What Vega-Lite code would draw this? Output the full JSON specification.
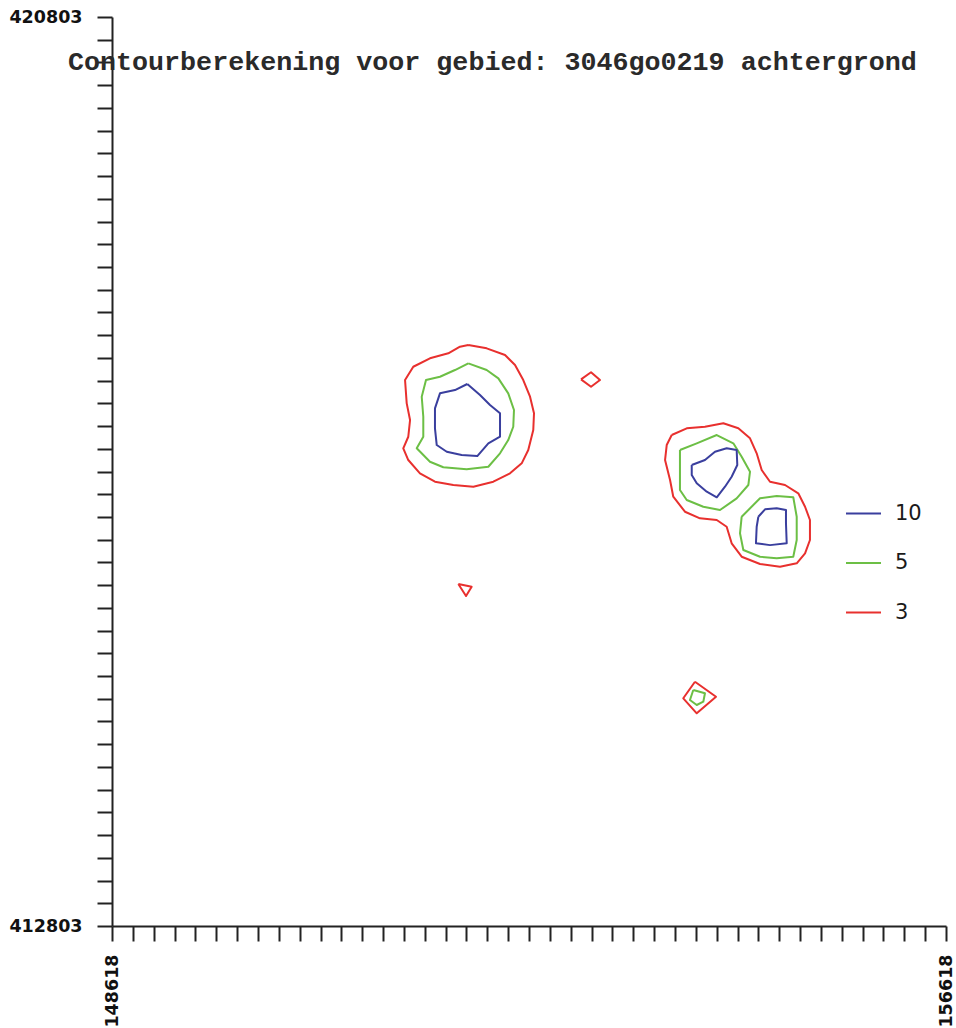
{
  "$schema": "https://vega.github.io/schema/vega-lite/v6.json",
  "width": 834,
  "height": 909,
  "autosize": {"type": "none"},
  "padding": {"left": 112, "top": 17, "right": 10, "bottom": 102},
  "background": "white",
  "title": {
    "text": "Contourberekening voor gebied: 3046go0219 achtergrond",
    "anchor": "start",
    "frame": "group",
    "dx": -44,
    "offset": -89,
    "baseline": "alphabetic",
    "font": "Liberation Mono",
    "fontSize": 26.7,
    "fontWeight": "bold",
    "color": "#2a2a2a"
  },
  "config": {
    "view": {"stroke": null},
    "axis": {
      "grid": false,
      "title": null,
      "domainColor": "#222222",
      "domainWidth": 2,
      "tickColor": "#222222",
      "tickWidth": 2,
      "tickSize": 15,
      "labelFont": "DejaVu Sans",
      "labelFontWeight": "bold",
      "labelFontSize": 17.5,
      "labelColor": "#111111",
      "labelOverlap": false,
      "labelFlush": false,
      "labelBound": false
    }
  },
  "data": {
    "values": [
      {"c":"r1","v":"3","o":1,"x":152036,"y":417916},
      {"c":"r1","v":"3","o":2,"x":152212,"y":417887},
      {"c":"r1","v":"3","o":3,"x":152388,"y":417828},
      {"c":"r1","v":"3","o":4,"x":152484,"y":417740},
      {"c":"r1","v":"3","o":5,"x":152563,"y":417608},
      {"c":"r1","v":"3","o":6,"x":152628,"y":417461},
      {"c":"r1","v":"3","o":7,"x":152666,"y":417315},
      {"c":"r1","v":"3","o":8,"x":152659,"y":417168},
      {"c":"r1","v":"3","o":9,"x":152611,"y":416992},
      {"c":"r1","v":"3","o":10,"x":152548,"y":416875},
      {"c":"r1","v":"3","o":11,"x":152436,"y":416787},
      {"c":"r1","v":"3","o":12,"x":152276,"y":416713},
      {"c":"r1","v":"3","o":13,"x":152084,"y":416669},
      {"c":"r1","v":"3","o":14,"x":151892,"y":416684},
      {"c":"r1","v":"3","o":15,"x":151716,"y":416713},
      {"c":"r1","v":"3","o":16,"x":151572,"y":416787},
      {"c":"r1","v":"3","o":17,"x":151460,"y":416904},
      {"c":"r1","v":"3","o":18,"x":151412,"y":417007},
      {"c":"r1","v":"3","o":19,"x":151460,"y":417109},
      {"c":"r1","v":"3","o":20,"x":151477,"y":417256},
      {"c":"r1","v":"3","o":21,"x":151445,"y":417403},
      {"c":"r1","v":"3","o":22,"x":151429,"y":417608},
      {"c":"r1","v":"3","o":23,"x":151508,"y":417725},
      {"c":"r1","v":"3","o":24,"x":151668,"y":417799},
      {"c":"r1","v":"3","o":25,"x":151844,"y":417843},
      {"c":"r1","v":"3","o":26,"x":151956,"y":417901},
      {"c":"r1","v":"3","o":27,"x":152036,"y":417916},

      {"c":"g1","v":"5","o":1,"x":152036,"y":417755},
      {"c":"g1","v":"5","o":2,"x":152212,"y":417696},
      {"c":"g1","v":"5","o":3,"x":152324,"y":417623},
      {"c":"g1","v":"5","o":4,"x":152419,"y":417491},
      {"c":"g1","v":"5","o":5,"x":152474,"y":417344},
      {"c":"g1","v":"5","o":6,"x":152467,"y":417197},
      {"c":"g1","v":"5","o":7,"x":152419,"y":417080},
      {"c":"g1","v":"5","o":8,"x":152340,"y":416963},
      {"c":"g1","v":"5","o":9,"x":152228,"y":416845},
      {"c":"g1","v":"5","o":10,"x":152020,"y":416822},
      {"c":"g1","v":"5","o":11,"x":151796,"y":416840},
      {"c":"g1","v":"5","o":12,"x":151668,"y":416889},
      {"c":"g1","v":"5","o":13,"x":151541,"y":417007},
      {"c":"g1","v":"5","o":14,"x":151604,"y":417109},
      {"c":"g1","v":"5","o":15,"x":151604,"y":417285},
      {"c":"g1","v":"5","o":16,"x":151589,"y":417461},
      {"c":"g1","v":"5","o":17,"x":151630,"y":417608},
      {"c":"g1","v":"5","o":18,"x":151764,"y":417637},
      {"c":"g1","v":"5","o":19,"x":151908,"y":417696},
      {"c":"g1","v":"5","o":20,"x":152036,"y":417755},

      {"c":"b1","v":"10","o":1,"x":152026,"y":417573},
      {"c":"b1","v":"10","o":2,"x":152148,"y":417476},
      {"c":"b1","v":"10","o":3,"x":152244,"y":417388},
      {"c":"b1","v":"10","o":4,"x":152340,"y":417315},
      {"c":"b1","v":"10","o":5,"x":152340,"y":417109},
      {"c":"b1","v":"10","o":6,"x":152228,"y":417051},
      {"c":"b1","v":"10","o":7,"x":152122,"y":416939},
      {"c":"b1","v":"10","o":8,"x":151972,"y":416948},
      {"c":"b1","v":"10","o":9,"x":151829,"y":416977},
      {"c":"b1","v":"10","o":10,"x":151733,"y":417036},
      {"c":"b1","v":"10","o":11,"x":151716,"y":417183},
      {"c":"b1","v":"10","o":12,"x":151716,"y":417359},
      {"c":"b1","v":"10","o":13,"x":151764,"y":417491},
      {"c":"b1","v":"10","o":14,"x":151908,"y":417520},
      {"c":"b1","v":"10","o":15,"x":152026,"y":417573},

      {"c":"rd","v":"3","o":1,"x":153117,"y":417614},
      {"c":"rd","v":"3","o":2,"x":153213,"y":417676},
      {"c":"rd","v":"3","o":3,"x":153299,"y":417608},
      {"c":"rd","v":"3","o":4,"x":153213,"y":417549},
      {"c":"rd","v":"3","o":5,"x":153117,"y":417614},

      {"c":"r2","v":"3","o":1,"x":153987,"y":417124},
      {"c":"r2","v":"3","o":2,"x":154131,"y":417183},
      {"c":"r2","v":"3","o":3,"x":154306,"y":417197},
      {"c":"r2","v":"3","o":4,"x":154482,"y":417227},
      {"c":"r2","v":"3","o":5,"x":154626,"y":417183},
      {"c":"r2","v":"3","o":6,"x":154738,"y":417095},
      {"c":"r2","v":"3","o":7,"x":154802,"y":416963},
      {"c":"r2","v":"3","o":8,"x":154850,"y":416816},
      {"c":"r2","v":"3","o":9,"x":154930,"y":416713},
      {"c":"r2","v":"3","o":10,"x":155074,"y":416684},
      {"c":"r2","v":"3","o":11,"x":155201,"y":416611},
      {"c":"r2","v":"3","o":12,"x":155266,"y":416493},
      {"c":"r2","v":"3","o":13,"x":155313,"y":416376},
      {"c":"r2","v":"3","o":14,"x":155313,"y":416200},
      {"c":"r2","v":"3","o":15,"x":155266,"y":416083},
      {"c":"r2","v":"3","o":16,"x":155186,"y":415995},
      {"c":"r2","v":"3","o":17,"x":155026,"y":415965},
      {"c":"r2","v":"3","o":18,"x":154834,"y":415989},
      {"c":"r2","v":"3","o":19,"x":154658,"y":416053},
      {"c":"r2","v":"3","o":20,"x":154562,"y":416171},
      {"c":"r2","v":"3","o":21,"x":154514,"y":416317},
      {"c":"r2","v":"3","o":22,"x":154419,"y":416376},
      {"c":"r2","v":"3","o":23,"x":154258,"y":416391},
      {"c":"r2","v":"3","o":24,"x":154114,"y":416449},
      {"c":"r2","v":"3","o":25,"x":154002,"y":416581},
      {"c":"r2","v":"3","o":26,"x":153971,"y":416728},
      {"c":"r2","v":"3","o":27,"x":153923,"y":416904},
      {"c":"r2","v":"3","o":28,"x":153939,"y":417036},
      {"c":"r2","v":"3","o":29,"x":153987,"y":417124},

      {"c":"g2","v":"5","o":1,"x":154066,"y":416992},
      {"c":"g2","v":"5","o":2,"x":154227,"y":417051},
      {"c":"g2","v":"5","o":3,"x":154419,"y":417124},
      {"c":"g2","v":"5","o":4,"x":154578,"y":417051},
      {"c":"g2","v":"5","o":5,"x":154658,"y":416933},
      {"c":"g2","v":"5","o":6,"x":154738,"y":416801},
      {"c":"g2","v":"5","o":7,"x":154722,"y":416684},
      {"c":"g2","v":"5","o":8,"x":154610,"y":416567},
      {"c":"g2","v":"5","o":9,"x":154450,"y":416464},
      {"c":"g2","v":"5","o":10,"x":154290,"y":416493},
      {"c":"g2","v":"5","o":11,"x":154131,"y":416552},
      {"c":"g2","v":"5","o":12,"x":154066,"y":416640},
      {"c":"g2","v":"5","o":13,"x":154066,"y":416816},
      {"c":"g2","v":"5","o":14,"x":154066,"y":416992},

      {"c":"g3","v":"5","o":1,"x":154658,"y":416405},
      {"c":"g3","v":"5","o":2,"x":154834,"y":416567},
      {"c":"g3","v":"5","o":3,"x":154994,"y":416587},
      {"c":"g3","v":"5","o":4,"x":155153,"y":416576},
      {"c":"g3","v":"5","o":5,"x":155186,"y":416405},
      {"c":"g3","v":"5","o":6,"x":155186,"y":416200},
      {"c":"g3","v":"5","o":7,"x":155153,"y":416053},
      {"c":"g3","v":"5","o":8,"x":154994,"y":416039},
      {"c":"g3","v":"5","o":9,"x":154834,"y":416053},
      {"c":"g3","v":"5","o":10,"x":154674,"y":416112},
      {"c":"g3","v":"5","o":11,"x":154642,"y":416259},
      {"c":"g3","v":"5","o":12,"x":154658,"y":416405},

      {"c":"b2","v":"10","o":1,"x":154179,"y":416860},
      {"c":"b2","v":"10","o":2,"x":154306,"y":416904},
      {"c":"b2","v":"10","o":3,"x":154402,"y":416977},
      {"c":"b2","v":"10","o":4,"x":154514,"y":417007},
      {"c":"b2","v":"10","o":5,"x":154610,"y":416992},
      {"c":"b2","v":"10","o":6,"x":154616,"y":416860},
      {"c":"b2","v":"10","o":7,"x":154562,"y":416757},
      {"c":"b2","v":"10","o":8,"x":154498,"y":416669},
      {"c":"b2","v":"10","o":9,"x":154419,"y":416576},
      {"c":"b2","v":"10","o":10,"x":154323,"y":416625},
      {"c":"b2","v":"10","o":11,"x":154227,"y":416699},
      {"c":"b2","v":"10","o":12,"x":154179,"y":416772},
      {"c":"b2","v":"10","o":13,"x":154179,"y":416860},

      {"c":"b3","v":"10","o":1,"x":154818,"y":416405},
      {"c":"b3","v":"10","o":2,"x":154882,"y":416470},
      {"c":"b3","v":"10","o":3,"x":154994,"y":416479},
      {"c":"b3","v":"10","o":4,"x":155083,"y":416464},
      {"c":"b3","v":"10","o":5,"x":155083,"y":416347},
      {"c":"b3","v":"10","o":6,"x":155090,"y":416171},
      {"c":"b3","v":"10","o":7,"x":154930,"y":416155},
      {"c":"b3","v":"10","o":8,"x":154795,"y":416171},
      {"c":"b3","v":"10","o":9,"x":154802,"y":416317},
      {"c":"b3","v":"10","o":10,"x":154818,"y":416405},

      {"c":"rt","v":"3","o":1,"x":151940,"y":415813},
      {"c":"rt","v":"3","o":2,"x":152068,"y":415789},
      {"c":"rt","v":"3","o":3,"x":152014,"y":415707},
      {"c":"rt","v":"3","o":4,"x":151940,"y":415813},

      {"c":"rb","v":"3","o":1,"x":154210,"y":414953},
      {"c":"rb","v":"3","o":2,"x":154412,"y":414821},
      {"c":"rb","v":"3","o":3,"x":154227,"y":414675},
      {"c":"rb","v":"3","o":4,"x":154098,"y":414807},
      {"c":"rb","v":"3","o":5,"x":154210,"y":414953},

      {"c":"gb","v":"5","o":1,"x":154194,"y":414880},
      {"c":"gb","v":"5","o":2,"x":154306,"y":414851},
      {"c":"gb","v":"5","o":3,"x":154290,"y":414777},
      {"c":"gb","v":"5","o":4,"x":154227,"y":414748},
      {"c":"gb","v":"5","o":5,"x":154162,"y":414792},
      {"c":"gb","v":"5","o":6,"x":154194,"y":414880}
    ]
  },
  "mark": {"type": "line", "strokeWidth": 2, "strokeJoin": "round"},
  "encoding": {
    "x": {
      "field": "x",
      "type": "quantitative",
      "scale": {"domain": [148618, 156618], "nice": false, "zero": false},
      "axis": {
        "values": [148618,148818,149018,149218,149418,149618,149818,150018,150218,150418,150618,150818,151018,151218,151418,151618,151818,152018,152218,152418,152618,152818,153018,153218,153418,153618,153818,154018,154218,154418,154618,154818,155018,155218,155418,155618,155818,156018,156218,156418,156618],
        "format": "d",
        "labelExpr": "datum.value == 148618 || datum.value == 156618 ? datum.label : ''",
        "labelAngle": -90,
        "labelPadding": 13
      }
    },
    "y": {
      "field": "y",
      "type": "quantitative",
      "scale": {"domain": [412803, 420803], "nice": false, "zero": false},
      "axis": {
        "values": [412803,413003,413203,413403,413603,413803,414003,414203,414403,414603,414803,415003,415203,415403,415603,415803,416003,416203,416403,416603,416803,417003,417203,417403,417603,417803,418003,418203,418403,418603,418803,419003,419203,419403,419603,419803,420003,420203,420403,420603,420803],
        "format": "d",
        "labelExpr": "datum.value == 412803 || datum.value == 420803 ? datum.label : ''",
        "labelPadding": 15
      }
    },
    "color": {
      "field": "v",
      "type": "nominal",
      "scale": {"domain": ["10", "5", "3"], "range": ["#3a3f9e", "#6cbf45", "#e8302e"]},
      "legend": {
        "title": null,
        "orient": "none",
        "legendX": 733,
        "legendY": 478,
        "symbolType": "stroke",
        "symbolSize": 1225,
        "symbolStrokeWidth": 2,
        "labelFont": "DejaVu Sans",
        "labelFontSize": 21,
        "labelColor": "#1a1a1a",
        "labelOffset": 13,
        "rowPadding": 20.5,
        "padding": 0
      }
    },
    "detail": {"field": "c", "type": "nominal"},
    "order": {"field": "o", "type": "quantitative"}
  }
}
